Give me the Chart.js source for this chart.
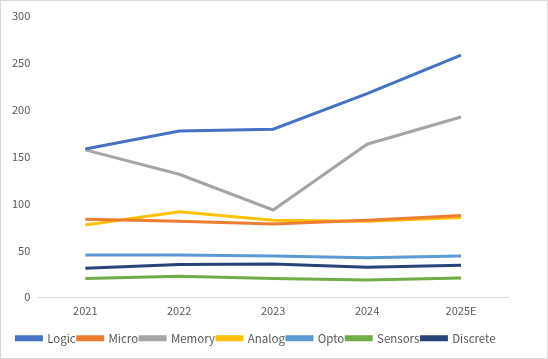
<!DOCTYPE html>
<html>
<head>
<meta charset="utf-8">
<script src="https://cdn.jsdelivr.net/npm/chart.js@4"></script>
<style>
  body { margin: 0; background: #fff; }
  #wrap { width: 546px; height: 357px; border: 1px solid #d9d9d9; }
</style>
</head>
<body>
<div id="wrap"><canvas id="chart" width="546" height="357"></canvas></div>
<script>
const years = ['2021', '2022', '2023', '2024', '2025E'];

const logic = [158, 177, 179, 217, 258];
const micro = [83, 81, 78, 82, 87];
const memory = [157, 131, 93, 163, 192];
const analog = [77, 91, 82, 81, 85];
const opto = [45, 45, 44, 42, 44];
const sensors = [20, 22.5, 20, 18.5, 20.5];
const discrete = [31, 35, 35.5, 32, 34];

const textColor = '#595959';
const fontFamily = "'Noto Sans CJK SC', 'Noto Sans', sans-serif";

// one dataset per series
function makeSeries(label, data, color) {
  return {
    label: label,
    data: data,
    borderColor: color,
    backgroundColor: color,
    borderWidth: 3,
    pointRadius: 0,
    tension: 0,
    fill: false
  };
}

const ctx = document.getElementById('chart').getContext('2d');

new Chart(ctx, {
  type: 'line',
  data: {
    labels: years,
    datasets: [
      makeSeries('Logic', logic, '#4472C4'),
      makeSeries('Micro', micro, '#ED7D31'),
      makeSeries('Memory', memory, '#A5A5A5'),
      makeSeries('Analog', analog, '#FFC000'),
      makeSeries('Opto', opto, '#5B9BD5'),
      makeSeries('Sensors', sensors, '#70AD47'),
      makeSeries('Discrete', discrete, '#264478')
    ]
  },
  options: {
    responsive: false,
    animation: false,
    layout: { padding: { top: 8, left: 3, right: 39, bottom: 4 } },
    plugins: {
      tooltip: { enabled: false },
      legend: {
        position: 'bottom',
        labels: {
          boxWidth: 25,
          boxHeight: 3,
          padding: 2,
          color: textColor,
          font: { family: fontFamily, size: 11.5 }
        }
      }
    },
    scales: {
      x: {
        offset: true,
        grid: { display: false, drawTicks: false },
        border: { color: '#d9d9d9' },
        ticks: {
          color: textColor,
          font: { family: fontFamily, size: 11 },
          padding: 7
        },
        // leave a little more room between the year labels and the legend
        afterFit: function (scale) {
          scale.height += 6;
        }
      },
      y: {
        min: 0,
        max: 300,
        grid: { display: false, drawTicks: false },
        border: { display: false },
        ticks: {
          stepSize: 50,
          color: textColor,
          font: { family: fontFamily, size: 11 },
          padding: 8
        }
      }
    }
  }
});
</script>
</body>
</html>
